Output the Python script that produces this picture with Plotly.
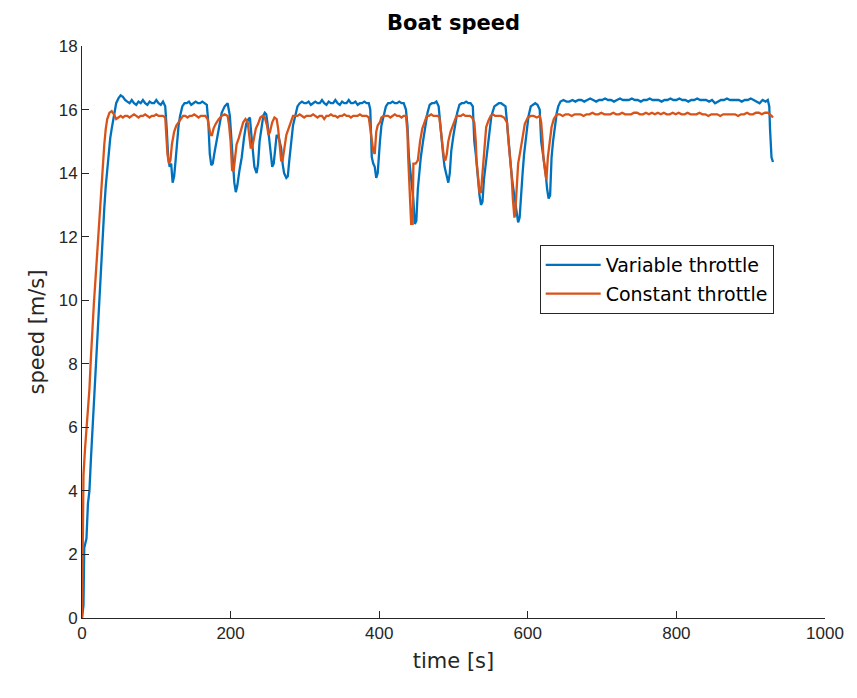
import plotly.graph_objects as go

# ---------------- data ----------------
time_var = [0, 2, 3, 6, 8, 10, 12, 14, 16, 18, 20, 22, 24, 26, 28, 30, 32, 34, 36, 38, 40, 42, 44, 46, 49, 52, 55, 58, 61,
            64, 67, 70, 73, 76, 79, 82, 85, 88, 91, 94, 97, 100, 103, 106, 109, 112,
            114, 116, 118, 120, 122, 124, 126, 128, 130, 132, 135, 138,
            141, 144, 147, 150, 153, 156, 159, 162, 165, 168,
            170, 172, 174, 176, 178, 181, 184, 188, 192, 196,
            199, 201, 203, 205, 207, 209, 212, 215, 218, 221, 224, 226,
            228, 230, 232, 235, 237, 239, 242, 244, 246, 248,
            250, 252, 254, 256, 258, 260, 262, 265, 268, 270, 272, 275, 277, 279, 282, 284, 287, 290, 293,
            296, 299, 302, 305, 308, 311, 314, 317, 320, 323, 326, 329, 332, 335, 338, 341, 344, 347, 350, 353,
            356, 359, 362, 365, 368, 371, 374, 377, 380, 383, 386,
            388, 390, 392, 394, 396, 398, 401, 403, 406, 409, 412,
            415, 418, 421, 424, 427, 430, 433, 436,
            438, 440, 442, 444, 446, 448, 450, 452, 454, 456, 459, 462, 465, 468,
            471, 474, 477, 480,
            482, 484, 486, 488, 491, 493, 495, 497, 500, 502, 505, 508,
            511, 514, 517, 520, 523, 526,
            528, 530, 533, 535, 537, 539, 541, 543, 546, 549, 551, 555, 558,
            561, 564, 567, 570,
            572, 574, 576, 578, 580, 583, 585, 587, 589, 591, 593, 595, 597, 599, 601, 604, 607,
            610, 613, 616,
            618, 620, 622, 624, 626, 628, 630, 632, 634, 636, 639, 641, 644,
            648, 652, 656, 660, 664, 668, 672, 676, 680, 684, 688, 692, 696, 700, 704, 708, 712, 716, 720, 724,
            728, 732, 736, 740, 744, 748, 752, 756, 760, 764, 768, 772, 776, 780, 784, 788, 792, 796, 800, 804,
            808, 812, 816, 820, 824, 828, 832, 836, 840, 844, 848, 852, 856, 860, 864, 868, 872, 876, 880, 884,
            888, 892, 896, 900, 904, 908, 912, 916, 920, 923, 925, 926, 928, 930]
speed_var = [0, 0.4, 2.2, 2.5, 3.6, 4.0, 5.0, 5.9, 6.8, 7.7, 8.6, 9.6, 10.4, 11.3, 12.0, 12.9, 13.6, 14.2, 14.7, 15.1, 15.4, 15.7, 16.0, 16.2, 16.35, 16.45, 16.4, 16.3, 16.25,
             16.2, 16.3, 16.2, 16.15, 16.25, 16.2, 16.3, 16.2, 16.15, 16.25, 16.2, 16.2, 16.3, 16.2, 16.15, 16.25, 16.1,
             15.4, 14.5, 14.2, 14.3, 13.7, 13.9, 14.4, 15.0, 15.5, 15.8, 16.1, 16.2,
             16.2, 16.25, 16.15, 16.2, 16.25, 16.2, 16.2, 16.25, 16.2, 16.15,
             15.6, 14.6, 14.25, 14.3, 14.6, 15.0, 15.5, 15.9, 16.1, 16.2,
             15.8, 15.0, 14.3, 13.7, 13.4, 13.6, 14.1, 14.5, 15.1, 15.55, 15.7, 15.75,
             15.2, 14.6, 14.2, 14.0, 14.3, 15.0, 15.5, 15.8, 15.9, 15.85,
             15.5, 15.0, 14.5, 14.2, 14.3, 14.8, 15.2, 15.1, 14.8, 14.3, 14.0, 13.85, 13.9, 14.4, 15.0, 15.5, 15.8, 16.1, 16.2,
             16.25, 16.2, 16.2, 16.25, 16.15, 16.2, 16.25, 16.2, 16.2, 16.3, 16.2, 16.15, 16.25, 16.2, 16.2, 16.3, 16.2, 16.15, 16.25, 16.2,
             16.2, 16.3, 16.2, 16.2, 16.25, 16.15, 16.2, 16.2, 16.25, 16.2, 16.2,
             16.0, 14.5, 14.3, 14.2, 13.85, 14.0, 15.0, 15.5, 15.8, 16.1, 16.2,
             16.2, 16.25, 16.2, 16.2, 16.25, 16.2, 16.2, 16.0,
             15.5, 14.5, 14.0, 13.6, 13.15, 12.4, 12.5, 13.5, 14.0, 14.5, 15.0, 15.5, 15.9, 16.15,
             16.2, 16.2, 16.25, 16.1,
             15.5, 15.0, 14.6, 14.2, 13.9, 13.7, 14.0, 14.7, 15.2, 15.55, 15.9, 16.15,
             16.2, 16.2, 16.25, 16.2, 16.2, 16.1,
             15.0, 14.6, 13.7, 13.3, 13.0, 13.1, 13.8, 14.2, 15.0, 15.5, 15.8, 16.1, 16.15,
             16.2, 16.2, 16.15, 16.1,
             15.6, 15.0, 14.5, 14.0, 13.6, 13.15, 12.8, 12.45, 12.6, 13.4, 14.0, 14.6, 15.0, 15.5, 15.8, 16.1, 16.15,
             16.2, 16.15, 16.0,
             15.0, 14.7, 14.3, 14.0, 13.5, 13.2, 13.3, 14.5, 15.0, 15.45, 15.9, 16.1, 16.25,
             16.3, 16.25, 16.25, 16.3, 16.25, 16.3, 16.3, 16.25, 16.3, 16.35, 16.3, 16.25, 16.3, 16.3, 16.35, 16.3, 16.3, 16.25, 16.3, 16.35,
             16.3, 16.3, 16.3, 16.35, 16.3, 16.3, 16.25, 16.3, 16.3, 16.35, 16.3, 16.3, 16.3, 16.25, 16.3, 16.3, 16.35, 16.3, 16.3, 16.35,
             16.3, 16.3, 16.25, 16.3, 16.3, 16.35, 16.3, 16.3, 16.3, 16.25, 16.3, 16.2, 16.25, 16.3, 16.3, 16.35, 16.3, 16.3, 16.3, 16.3,
             16.25, 16.3, 16.3, 16.35, 16.3, 16.25, 16.2, 16.3, 16.25, 16.3, 16.1, 15.4, 14.5, 14.35]

time_const = [0, 0.5, 1, 2, 4, 6, 8, 10, 12, 14, 16, 18, 20, 22, 24, 26, 28, 30, 32, 34, 37, 40, 43, 46, 49, 52,
              55, 58, 61, 64, 67, 70, 73, 76, 79, 82, 85, 88, 91, 94, 97, 100, 103, 106, 109, 112,
              113, 115, 117, 119, 121, 124, 127, 130, 133, 136,
              139, 142, 145, 148, 151, 154, 157, 160, 163, 166, 169,
              171, 173, 175, 177, 180, 184, 188, 192, 196,
              198, 200, 202, 204, 206, 208, 211, 214, 217, 220, 223,
              225, 227, 229, 231, 234, 237, 240, 243, 246,
              249, 251, 253, 256, 259, 262,
              264, 266, 268, 270, 272, 275, 278, 281, 284, 287,
              290, 293, 296, 299, 302, 305, 308, 311, 314, 317, 320, 323, 326, 329, 332, 335, 338, 341, 344, 347,
              350, 353, 356, 359, 362, 365, 368, 371, 374, 377, 380, 383, 386,
              388, 390, 392, 394, 396, 398, 401, 403, 406,
              409, 412, 415, 418, 421, 424, 427, 430, 433, 436,
              438, 439, 441, 443, 445, 446, 449, 452, 455, 458, 461, 464,
              467, 470, 473, 476, 479, 481,
              483, 485, 487, 489, 491, 493, 496, 500, 504,
              507, 510, 513, 516, 519, 522, 525, 528,
              530, 531, 533, 535, 537, 539, 540, 542, 544, 547, 550, 553, 556,
              560, 564, 568, 572,
              574, 576, 578, 580, 582, 583, 585, 587, 590, 592, 596, 600, 604,
              608, 612, 616, 618,
              620, 621, 623, 625, 627, 630, 632, 635, 639,
              643, 647, 651, 655, 659, 663, 667, 671, 675, 679, 683, 687, 691, 695, 699, 703, 707, 711, 715, 719,
              723, 727, 731, 735, 739, 743, 747, 751, 755, 759, 763, 767, 771, 775, 779, 783, 787, 791, 795, 799,
              803, 807, 811, 815, 819, 823, 827, 831, 835, 839, 843, 847, 851, 855, 859, 863, 867, 871, 875, 879,
              883, 887, 891, 895, 899, 903, 907, 911, 915, 919, 923, 926, 928, 930]
speed_const = [0, 0.9, 2.9, 4.5, 5.3, 5.9, 6.6, 7.2, 8.2, 9.2, 9.9, 10.6, 11.3, 12.2, 13.0, 13.6, 14.3, 14.9, 15.4, 15.7, 15.9, 15.95, 15.85, 15.7, 15.75, 15.8,
               15.75, 15.8, 15.8, 15.75, 15.8, 15.85, 15.8, 15.75, 15.8, 15.8, 15.85, 15.8, 15.75, 15.8, 15.8, 15.85, 15.8, 15.8, 15.8, 15.75,
               15.2, 14.6, 14.3, 14.4, 14.9, 15.3, 15.5, 15.6, 15.7, 15.8,
               15.8, 15.75, 15.8, 15.8, 15.85, 15.8, 15.75, 15.8, 15.8, 15.8, 15.7,
               15.5, 15.2, 15.2, 15.4, 15.55, 15.7, 15.8, 15.85, 15.8,
               15.5, 15.0, 14.1, 14.05, 14.5, 14.9, 15.1, 15.4, 15.6, 15.7, 15.6,
               15.2, 14.8, 14.8, 15.1, 15.4, 15.55, 15.75, 15.8, 15.75,
               15.5, 15.2, 15.3, 15.6, 15.75, 15.7,
               15.4, 14.8, 14.4, 14.4, 14.8, 15.2, 15.4, 15.6, 15.8, 15.8,
               15.8, 15.85, 15.8, 15.75, 15.8, 15.8, 15.8, 15.85, 15.8, 15.75, 15.8, 15.8, 15.7, 15.8, 15.8, 15.85, 15.8, 15.8, 15.75, 15.8,
               15.8, 15.85, 15.8, 15.8, 15.75, 15.8, 15.8, 15.8, 15.85, 15.8, 15.8, 15.8, 15.75,
               15.4, 15.0, 14.7, 14.6, 15.3, 15.5, 15.6, 15.75, 15.8,
               15.8, 15.8, 15.75, 15.8, 15.85, 15.8, 15.8, 15.75, 15.8, 15.8,
               15.3, 14.5, 13.5, 12.4, 12.4, 14.3, 14.3, 14.4, 15.0, 15.4, 15.6, 15.8,
               15.8, 15.85, 15.8, 15.8, 15.8, 15.75,
               15.3, 15.0, 14.5, 14.4, 14.6, 15.0, 15.3, 15.55, 15.8,
               15.8, 15.8, 15.85, 15.8, 15.8, 15.8, 15.75, 15.6,
               15.0, 14.4, 13.9, 13.4, 13.4, 14.0, 14.5, 15.0, 15.45, 15.65, 15.8, 15.85, 15.8,
               15.8, 15.8, 15.75, 15.6,
               15.0, 14.5, 14.0, 13.15, 12.6, 12.7, 13.7, 14.3, 14.7, 15.0, 15.55, 15.75, 15.8,
               15.8, 15.75, 15.8, 15.6,
               15.0, 14.5, 14.1, 13.78, 14.5, 15.0, 15.45, 15.7, 15.85,
               15.85, 15.8, 15.85, 15.85, 15.8, 15.85, 15.85, 15.85, 15.8, 15.85, 15.85, 15.9, 15.85, 15.85, 15.9, 15.85, 15.85, 15.85, 15.9, 15.85,
               15.85, 15.9, 15.85, 15.85, 15.85, 15.9, 15.9, 15.85, 15.85, 15.9, 15.85, 15.9, 15.85, 15.9, 15.85, 15.9, 15.85, 15.85, 15.9, 15.85,
               15.9, 15.85, 15.85, 15.9, 15.85, 15.85, 15.85, 15.9, 15.85, 15.85, 15.8, 15.85, 15.85, 15.85, 15.8, 15.85, 15.85, 15.85, 15.85, 15.85,
               15.8, 15.85, 15.85, 15.9, 15.85, 15.85, 15.9, 15.9, 15.85, 15.9, 15.9, 15.85, 15.8, 15.75]

x_ticks = [0, 200, 400, 600, 800, 1000]
y_ticks = [0, 2, 4, 6, 8, 10, 12, 14, 16, 18]

# ---------------- figure ----------------
FONT = "Liberation Sans, Arial, sans-serif"
WIDE = "DejaVu Sans, Liberation Sans, sans-serif"
AXC = "#262626"

fig = go.Figure()
fig.add_trace(go.Scatter(x=time_var, y=speed_var, mode="lines", name="Variable throttle",
                         line=dict(color="#0072BD", width=2.3), legendgroup="a"))
fig.add_trace(go.Scatter(x=time_const, y=speed_const, mode="lines", name="Constant throttle",
                         line=dict(color="#D95319", width=2.3), legendgroup="b"))

fig.update_layout(
    width=857, height=698,
    margin=dict(l=82, r=32, t=46, b=80),
    paper_bgcolor="white", plot_bgcolor="white",
    font=dict(family=FONT, color=AXC, size=17),
    title=dict(text="<b>Boat speed</b>", x=(82 + 825) / 2 / 857, xanchor="center",
               y=1 - 23 / 698, yanchor="middle", font=dict(size=21, color="black", family=WIDE)),
    legend=dict(x=0.616, y=0.652, xanchor="left", yanchor="top",
                bordercolor="#262626", borderwidth=1, bgcolor="white",
                font=dict(size=19, color="black", family=WIDE),
                tracegroupgap=1, traceorder="grouped", itemwidth=55),
    xaxis=dict(range=[0, 1000], tickvals=x_ticks, ticks="inside", ticklen=7, tickcolor=AXC,
               showline=True, linecolor=AXC, linewidth=1, showgrid=False, zeroline=False,
               tickfont=dict(size=17, color=AXC),
               title=dict(text="time [s]", font=dict(size=21, color=AXC, family=WIDE), standoff=10)),
    yaxis=dict(range=[0, 18], tickvals=y_ticks, ticks="inside", ticklen=7, tickcolor=AXC,
               showline=True, linecolor=AXC, linewidth=1, showgrid=False, zeroline=False,
               tickfont=dict(size=17, color=AXC),
               title=dict(text="speed [m/s]", font=dict(size=21, color=AXC, family=WIDE), standoff=8)),
)

fig.write_html("out.html")
